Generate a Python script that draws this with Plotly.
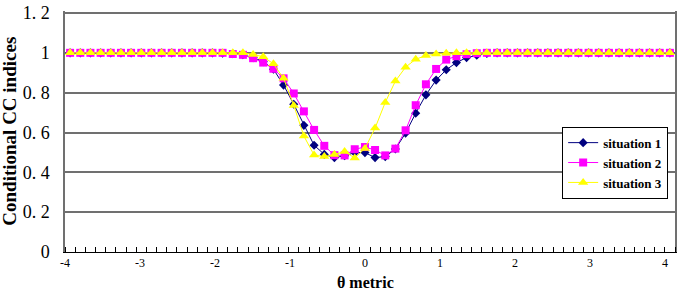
import numpy as np
import plotly.graph_objects as go

# theta positions of the 60 plotted points (category centres)
theta = np.round(np.linspace(-3.932, 4.065, 60), 3)

situation_1 = [1.0] * 15 + [
    0.998, 0.995, 0.99, 0.976, 0.956, 0.918, 0.838, 0.742, 0.636, 0.536,
    0.49, 0.474, 0.483, 0.499, 0.499, 0.474, 0.479, 0.517, 0.597, 0.697,
    0.789, 0.863, 0.915, 0.951, 0.976, 0.988, 0.997] + [1.0] * 18

situation_2 = [1.0] * 16 + [
    0.994, 0.99, 0.973, 0.951, 0.92, 0.872, 0.796, 0.706, 0.613, 0.533,
    0.486, 0.485, 0.516, 0.527, 0.512, 0.485, 0.519, 0.611, 0.737, 0.842,
    0.919, 0.966, 0.983, 0.993, 0.998] + [1.0] * 19

situation_3 = [1.0] * 18 + [
    0.992, 0.98, 0.945, 0.872, 0.736, 0.582, 0.487, 0.479, 0.49, 0.504,
    0.472, 0.52, 0.622, 0.751, 0.858, 0.928, 0.968, 0.986, 0.994, 0.998] + [1.0] * 22

series_names = ["situation 1", "situation 2", "situation 3"]
x_tick_vals = [-4, -3, -2, -1, 0, 1, 2, 3, 4]
x_tick_text = ["-4", "-3", "-2", "-1", "0", "1", "2", "3", "4"]
y_tick_vals = [0, 0.2, 0.4, 0.6, 0.8, 1.0, 1.2]
y_tick_text = ["0", "0. 2", "0. 4", "0. 6", "0. 8", "1", "1. 2"]
minor_tick_vals = [round(-4 + 0.13555 * k, 4) for k in range(61)]

serif = "Liberation Serif, Times New Roman, serif"

fig = go.Figure()
styles = [
    dict(color="#000080", symbol="diamond", size=7),
    dict(color="#FF00FF", symbol="square", size=8),
    dict(color="#FFFF00", symbol="triangle-up", size=9),
]
for name, ys, st in zip(series_names, [situation_1, situation_2, situation_3], styles):
    fig.add_trace(go.Scatter(
        x=theta, y=ys, mode="lines+markers", name=name,
        line=dict(color=st["color"], width=1),
        marker=dict(color=st["color"], symbol=st["symbol"], size=st["size"],
                    line=dict(width=0)),
    ))

fig.update_layout(
    width=680, height=293,
    margin=dict(l=65, r=3, t=7, b=41),
    paper_bgcolor="white", plot_bgcolor="white",
    showlegend=True,
    legend=dict(
        x=0.815, y=0.52, xanchor="left", yanchor="top",
        bgcolor="white", bordercolor="black", borderwidth=1,
        font=dict(family=serif, size=13, color="black", weight="bold"),
        tracegroupgap=0, itemwidth=30,
    ),
    xaxis=dict(
        range=[-4, 4.133], tickmode="array", tickvals=x_tick_vals, ticktext=x_tick_text,
        ticks="", showgrid=False, zeroline=False,
        showline=True, linecolor="black", linewidth=1,
        tickfont=dict(family=serif, size=12, color="black"),
        minor=dict(tickmode="array", tickvals=minor_tick_vals, ticks="inside",
                   ticklen=5, tickcolor="black", tickwidth=1, showgrid=False),
    ),
    yaxis=dict(
        range=[0, 1.21], tickmode="array", tickvals=y_tick_vals, ticktext=y_tick_text,
        ticks="", showgrid=True, gridcolor="#707070", gridwidth=1.5, zeroline=False,
        showline=True, linecolor="#707070", linewidth=1.5, mirror=True,
        ticklabelstandoff=10, ticklabeloverflow="allow",
        tickfont=dict(family=serif, size=18, color="black"),
    ),
    annotations=[
        dict(text="Conditional CC indices", xref="paper", yref="paper",
             x=-0.0915, y=0.5, textangle=-90, showarrow=False,
             xanchor="center", yanchor="middle",
             font=dict(family=serif, size=19, color="black", weight="bold")),
        dict(text="θ metric", xref="paper", yref="paper",
             x=0.492, y=-0.1276, showarrow=False,
             xanchor="center", yanchor="middle",
             font=dict(family=serif, size=16, color="black", weight="bold")),
    ],
)

fig.write_html("out.html",
               config={"displayModeBar": False},
               post_script="document.body.style.margin='0';document.body.style.padding='0';")
